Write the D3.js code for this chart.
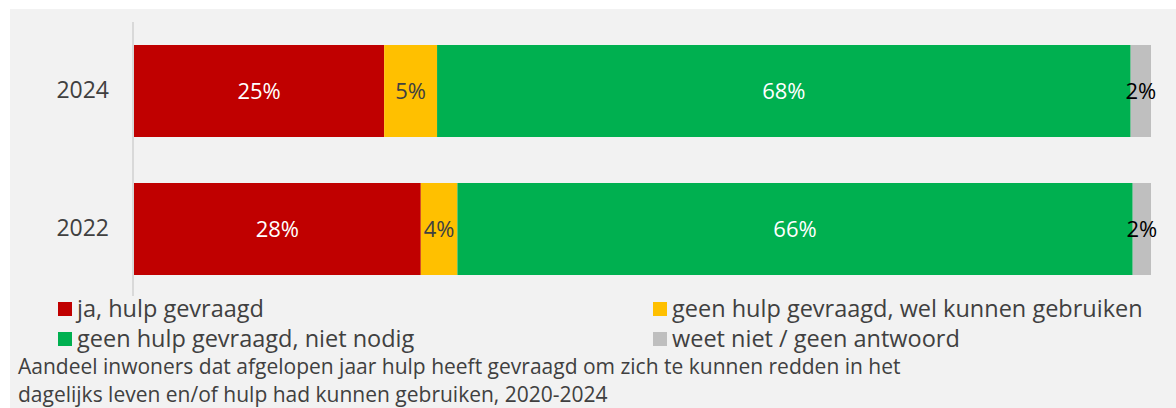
<!DOCTYPE html>
<html>
<head>
<meta charset="utf-8">
<script src="https://cdn.jsdelivr.net/npm/d3@7"></script>
<style>
  body { margin: 0; background: #fff; }
  svg text { font-family: "Open Sans", "Noto Sans", sans-serif; }
</style>
</head>
<body>
<svg class="mainSvg" width="1176" height="408"></svg>
<script>
// data
var years = ["2024", "2022"];
var categories = ["ja, hulp gevraagd", "geen hulp gevraagd, wel kunnen gebruiken", "geen hulp gevraagd, niet nodig", "weet niet / geen antwoord"];
var ja = [24.6, 28.2];
var welKunnen = [5.2, 3.6];
var nietNodig = [68.2, 66.4];
var weetNiet = [2.0, 1.8];
var labels = [["25%", "5%", "68%", "2%"], ["28%", "4%", "66%", "2%"]];

var colors = ["#c00000", "#ffc000", "#00b050", "#bfbfbf"];
var labelColors = ["#ffffff", "#404040", "#ffffff", "#000000"];

var svg = d3.select(".mainSvg");

svg.append("rect")
  .attr("x", 10).attr("y", 9)
  .attr("width", 1166).attr("height", 399)
  .attr("fill", "#f2f2f2");

var x = d3.scaleLinear().domain([0, 100]).range([134, 1151]);
var y = d3.scaleBand().domain(years).range([22, 298]).paddingInner(1 / 3).paddingOuter(1 / 6);

var rows = years.map(function(yr, i) {
  return { year: yr, ja: ja[i], wel: welKunnen[i], niet: nietNodig[i], weet: weetNiet[i] };
});
var keys = ["ja", "wel", "niet", "weet"];
var stacked = d3.stack().keys(keys)(rows);

var layers = svg.selectAll("g.layer").data(stacked).enter().append("g")
  .attr("class", "layer")
  .attr("fill", function(d, i) { return colors[i]; });

layers.selectAll("rect").data(function(d) { return d; }).enter().append("rect")
  .attr("x", function(d) { return x(d[0]); })
  .attr("width", function(d) { return x(d[1]) - x(d[0]); })
  .attr("y", function(d) { return y(d.data.year); })
  .attr("height", y.bandwidth());

layers.each(function(layer, k) {
  d3.select(this).selectAll("text").data(layer).enter().append("text")
    .attr("x", function(d) { return (x(d[0]) + x(d[1])) / 2; })
    .attr("y", function(d) { return y(d.data.year) + y.bandwidth() / 2; })
    .attr("dy", "0.35em")
    .attr("text-anchor", "middle")
    .attr("font-size", 22)
    .attr("fill", labelColors[k])
    .text(function(d, i) { return labels[i][k]; });
});

// axis line + year labels
var yAxis = svg.append("g")
  .attr("transform", "translate(133,0)")
  .call(d3.axisLeft(y).tickSize(0).tickPadding(24));
yAxis.select(".domain").remove();
yAxis.append("line")
  .attr("x1", 0).attr("x2", 0)
  .attr("y1", 22).attr("y2", 296)
  .attr("stroke", "#d9d9d9").attr("stroke-width", 2);
yAxis.selectAll(".tick text")
  .attr("font-size", 23)
  .attr("fill", "#404040")
  .attr("font-family", "Open Sans, Noto Sans, sans-serif");

// legend
var legendPos = [[58, 302], [653, 302], [58, 332], [653, 332]];
var order = [0, 1, 2, 3];
var legend = svg.selectAll("g.legend").data(order).enter().append("g")
  .attr("class", "legend")
  .attr("transform", function(d) { return "translate(" + legendPos[d][0] + "," + legendPos[d][1] + ")"; });
legend.append("rect")
  .attr("width", 14).attr("height", 14)
  .attr("fill", function(d) { return colors[d]; });
legend.append("text")
  .attr("x", 19).attr("y", 7)
  .attr("dy", "0.35em")
  .attr("font-size", 23.5)
  .attr("fill", "#404040")
  .text(function(d) { return categories[d]; });

// caption
var caption = ["Aandeel inwoners dat afgelopen jaar hulp heeft gevraagd om zich te kunnen redden in het",
  "dagelijks leven en/of hulp had kunnen gebruiken, 2020-2024"];
svg.selectAll("text.caption").data(caption).enter().append("text")
  .attr("class", "caption")
  .attr("x", 18)
  .attr("y", function(d, i) { return 374 + i * 28; })
  .attr("font-size", 21)
  .attr("fill", "#404040")
  .text(function(d) { return d; });
</script>
</body>
</html>
